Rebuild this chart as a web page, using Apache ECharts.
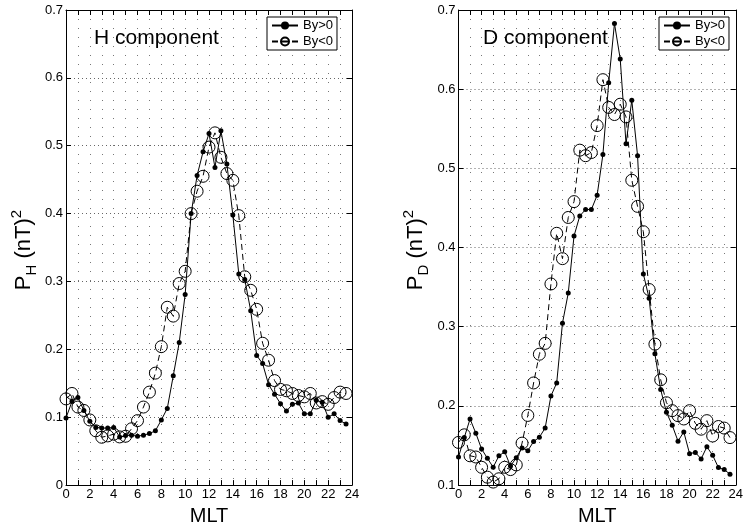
<!DOCTYPE html>
<html>
<head>
<meta charset="utf-8">
<script src="https://cdn.jsdelivr.net/npm/echarts@6/dist/echarts.min.js"></script>
<style>
html,body{margin:0;padding:0;background:#fff;}
#c{width:746px;height:531px;}
</style>
</head>
<body>
<div id="c"></div>
<script>
// MLT hours (x values)
var mlt = [0,0.5,1,1.5,2,2.5,3,3.5,4,4.5,5,5.5,6,6.5,7,7.5,8,8.5,9,9.5,10,10.5,11,11.5,
           12,12.5,13,13.5,14,14.5,15,15.5,16,16.5,17,17.5,18,18.5,19,19.5,20,20.5,21,21.5,22,22.5,23,23.5];
// H component
var hPos = [0.099,0.123,0.129,0.110,0.094,0.085,0.084,0.084,0.085,
            0.071,0.073,0.0735,0.072,0.0735,0.076,0.080,0.096,
            0.113,0.161,0.210,0.281,0.400,0.456,0.491,0.518,
            0.468,0.522,0.473,0.398,0.311,0.303,0.257,0.191,
            0.179,0.148,0.134,0.120,0.109,0.119,0.121,0.105,
            0.105,0.125,0.122,0.100,0.105,0.095,0.090];
var hNeg = [0.127,0.135,0.115,0.110,0.096,0.080,0.0705,0.0725,0.075,
            0.071,0.072,0.083,0.095,0.115,0.137,0.165,0.204,
            0.262,0.249,0.297,0.315,0.400,0.433,0.455,0.498,
            0.519,0.483,0.459,0.449,0.397,0.307,0.287,0.259,
            0.209,0.184,0.154,0.141,0.139,0.135,0.132,0.130,
            0.135,0.121,0.123,0.119,0.129,0.137,0.135];
// D component
var dPos = [0.1355,0.160,0.1835,0.1655,0.1455,0.134,0.1225,0.137,0.142,
            0.124,0.1345,0.147,0.1435,0.155,0.1605,0.172,0.2125,
            0.229,0.3045,0.3425,0.4146,0.440,0.448,0.448,0.466,
            0.5175,0.608,0.683,0.638,0.531,0.586,0.516,0.3666,
            0.336,0.2658,0.2207,0.1919,0.1756,0.1555,0.1672,0.1397,
            0.1413,0.133,0.1484,0.1376,0.1221,0.1196,0.1138];
var dNeg = [0.1539,0.1635,0.137,0.1355,0.1225,0.110,0.1038,0.108,0.1225,
            0.1196,0.1255,0.153,0.188,0.229,0.2653,0.279,0.354,
            0.418,0.386,0.438,0.458,0.523,0.516,0.520,0.554,
            0.612,0.577,0.568,0.581,0.565,0.485,0.452,0.420,
            0.347,0.278,0.233,0.204,0.194,0.1877,0.1835,0.194,
            0.178,0.1706,0.1814,0.162,0.174,0.172,0.160];
var seriesNames = ['By>0','By<0'];
var panelTitles = ['H component','D component'];
var yLabelSubs = ['H','D'];

var FONT = 'Liberation Sans, Arial, Helvetica, sans-serif';

function pairs(arr){ return mlt.map(function(x,i){ return [x, arr[i]]; }); }

function xAx(grid, pos, main){
  return {
    type:'value', gridIndex:grid, position:pos, min:0, max:24, interval:2,
    axisLine:{show:true, onZero:false, lineStyle:{color:'#000', width:1}},
    axisTick:{show:true, inside:true, length:5, lineStyle:{color:'#000'}},
    minorTick:{show:true, splitNumber:2, length:5, lineStyle:{color:'#000'}},
    axisLabel:{show:main, color:'#000', fontSize:13, fontFamily:FONT, margin:3},
    splitLine:{show:main, lineStyle:{type:[1,8], color:'#777', width:1}},
    minorSplitLine:{show:main, lineStyle:{type:[1,8], color:'#777', width:1}},
    name: main ? 'MLT' : '', nameLocation:'middle', nameGap:19,
    nameTextStyle:{fontSize:20, color:'#000', fontFamily:FONT}
  };
}
function yAx(grid, pos, main, mn){
  return {
    type:'value', gridIndex:grid, position:pos, min:mn, max:0.7, interval:0.1,
    axisLine:{show:true, onZero:false, lineStyle:{color:'#000', width:1}},
    axisTick:{show:true, inside:true, length:5, lineStyle:{color:'#000'}},
    axisLabel:{show:main, color:'#000', fontSize:13, fontFamily:FONT, margin:3,
      formatter:function(v){ return Math.abs(v) < 1e-9 ? '0' : (Math.round(v*10)/10).toFixed(1); }},
    splitLine:{show:main, lineStyle:{type:[1,3], color:'#666', width:1}}
  };
}
function legend(left){
  return {
    data:seriesNames, orient:'vertical', left:left, top:17,
    backgroundColor:'#fff', borderColor:'#000', borderWidth:1, borderRadius:0,
    padding:[2,4,2,4], itemGap:3, itemWidth:26, itemHeight:10,
    textStyle:{fontSize:13, color:'#000', fontFamily:FONT},
    selectedMode:false
  };
}
function mkSeries(xi, yi, pos, neg){
  return [
    {type:'line', name:seriesNames[0], xAxisIndex:xi, yAxisIndex:yi, data:pairs(pos),
     symbol:'circle', symbolSize:5, showAllSymbol:true, clip:false,
     lineStyle:{color:'#000', width:1}, itemStyle:{color:'#000'}},
    {type:'line', name:seriesNames[1], xAxisIndex:xi, yAxisIndex:yi, data:pairs(neg),
     symbol:'circle', symbolSize:12, showAllSymbol:true, clip:false,
     lineStyle:{color:'#000', width:1, type:[6,4]},
     itemStyle:{color:'rgba(255,255,255,0)', borderColor:'#000', borderWidth:1}}
  ];
}
function yLabel(x, sub){
  return {
    type:'text', x:x, y:250, rotation:Math.PI/2,
    style:{
      text:'{a|P}{b|' + sub + '}{a| (nT)}{c|2}',
      align:'center', verticalAlign:'middle', fill:'#000', font:'22px ' + FONT,
      rich:{
        a:{fontSize:22, fontFamily:FONT, fill:'#000', lineHeight:30},
        b:{fontSize:15, fontFamily:FONT, fill:'#000', lineHeight:16, verticalAlign:'bottom'},
        c:{fontSize:15, fontFamily:FONT, fill:'#000', lineHeight:16, verticalAlign:'top'}
      }
    }
  };
}

var chart = echarts.init(document.getElementById('c'), null, {renderer:'canvas'});
chart.setOption({
  animation:false,
  backgroundColor:'#fff',
  grid:[
    {left:66, top:10, width:286, height:479, containLabel:false},
    {left:458.5, top:10, width:286.5, height:479, containLabel:false}
  ],
  xAxis:[xAx(0,'bottom',true), xAx(0,'top',false), xAx(1,'bottom',true), xAx(1,'top',false)],
  yAxis:[yAx(0,'left',true,0), yAx(0,'right',false,0), yAx(1,'left',true,0.1), yAx(1,'right',false,0.1)],
  legend:[legend(267), legend(659)],
  series: mkSeries(0,0,hPos,hNeg).concat(mkSeries(2,2,dPos,dNeg)),
  graphic:[
    {type:'text', left:94, top:28, style:{text:panelTitles[0], font:'21px ' + FONT, fill:'#000'}},
    {type:'text', left:483, top:28, style:{text:panelTitles[1], font:'21px ' + FONT, fill:'#000'}},
    yLabel(24, yLabelSubs[0]),
    yLabel(416, yLabelSubs[1])
  ]
});
</script>
</body>
</html>
